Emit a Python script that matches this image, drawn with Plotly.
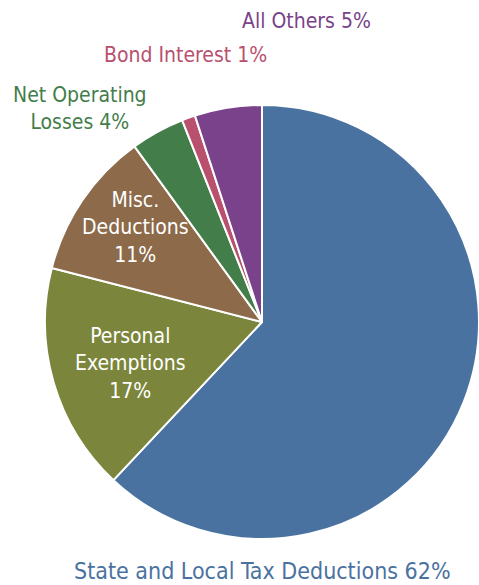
import plotly.graph_objects as go

# Share of tax expenditure by category, clockwise from 12 o'clock
categories = [
    "State and Local Tax Deductions",
    "Personal Exemptions",
    "Misc. Deductions",
    "Net Operating Losses",
    "Bond Interest",
    "All Others",
]
shares = [62, 17, 11, 4, 1, 5]

# Label wording as it is broken across lines on the chart
label_lines = [
    ["State and Local Tax Deductions"],
    ["Personal", "Exemptions"],
    ["Misc.", "Deductions"],
    ["Net Operating", "Losses"],
    ["Bond Interest"],
    ["All Others"],
]

slice_colors = ["#4a72a0", "#7b853b", "#8c6a4a", "#437d49", "#b8506e", "#7a428a"]

W, H = 479, 585
FONT = "DejaVu Sans Condensed, Liberation Sans Narrow, sans-serif"

# Pie placement in pixels: centre (cx, cy) and radius r
cx, cy, r = 262, 322, 217

fig = go.Figure(
    go.Pie(
        labels=categories,
        values=shares,
        sort=False,
        direction="clockwise",
        rotation=0,
        marker=dict(colors=slice_colors, line=dict(color="white", width=2)),
        textinfo="none",
        hoverinfo="label+percent",
        domain=dict(
            x=[(cx - r) / W, (cx + r) / W],
            y=[(H - cy - r) / H, (H - cy + r) / H],
        ),
    )
)

# Label anchor points (pixels), font size, whether the label sits inside
# the slice, and whether the percentage gets its own line
label_layout = {
    "State and Local Tax Deductions": dict(pos=(262, 571), size=23, inside=False, own_line=False),
    "Personal Exemptions": dict(pos=(130, 363), size=21, inside=True, own_line=True),
    "Misc. Deductions": dict(pos=(135, 228), size=21, inside=True, own_line=True),
    "Net Operating Losses": dict(pos=(80, 108), size=21, inside=False, own_line=False),
    "Bond Interest": dict(pos=(185, 55), size=21, inside=False, own_line=False),
    "All Others": dict(pos=(306, 21), size=21, inside=False, own_line=False),
}

for name, lines, share, color in zip(categories, label_lines, shares, slice_colors):
    spec = label_layout[name]
    lines = list(lines)
    pct = f"{share}%"
    if spec["own_line"]:
        lines.append(pct)
    else:
        lines[-1] = f"{lines[-1]} {pct}"
    px, py = spec["pos"]
    fig.add_annotation(
        x=px / W,
        y=1 - py / H,
        xref="paper",
        yref="paper",
        xanchor="center",
        yanchor="middle",
        text="<br>".join(lines),
        showarrow=False,
        align="center",
        font=dict(
            family=FONT,
            size=spec["size"],
            color="white" if spec["inside"] else color,
        ),
    )

fig.update_layout(
    width=W,
    height=H,
    margin=dict(l=0, r=0, t=0, b=0),
    paper_bgcolor="white",
    plot_bgcolor="white",
    showlegend=False,
)

fig.write_html("out.html")
